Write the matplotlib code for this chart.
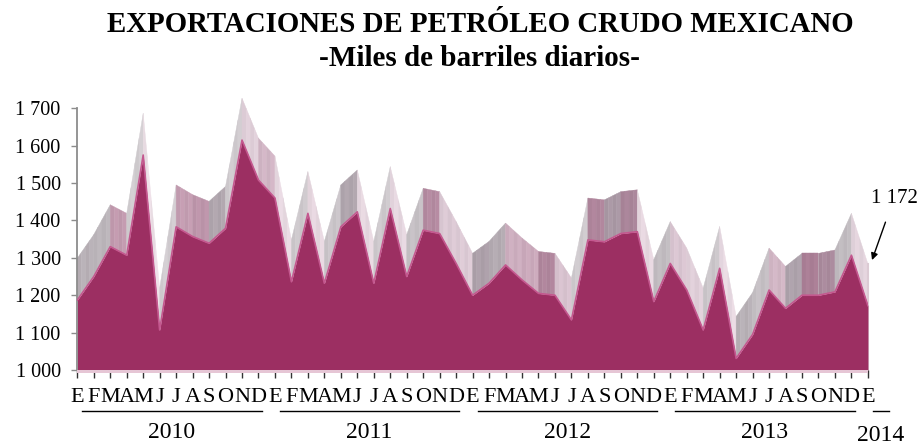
import matplotlib.pyplot as plt
import numpy as np
from matplotlib.patches import Polygon, Rectangle
from matplotlib.colors import to_rgb

plt.rcParams['font.family'] = ['Liberation Serif', 'DejaVu Serif']

# Exportaciones mensuales, miles de barriles diarios (ene 2010 - ene 2014)
meses = ["E", "F", "M", "A", "M", "J", "J", "A", "S", "O", "N", "D"]
anios = ["2010", "2011", "2012", "2013", "2014"]
exportaciones = [
    1187, 1250, 1330, 1307, 1575, 1107, 1383, 1357, 1339, 1379, 1615, 1508,   # 2010
    1460, 1236, 1419, 1232, 1383, 1423, 1232, 1432, 1250, 1374, 1365, 1285,   # 2011
    1200, 1232, 1281, 1241, 1205, 1200, 1134, 1348, 1343, 1365, 1370, 1183,   # 2012
    1285, 1214, 1107, 1272, 1031, 1095, 1214, 1165, 1200, 1200, 1209, 1307,   # 2013
    1172,                                                                     # 2014
]
etiquetas_x = meses * 4 + ["E"]
yticks = [1000, 1100, 1200, 1300, 1400, 1500, 1600, 1700]

PROF = 112          # profundidad del efecto 3D, en unidades del eje y
FRENTE = "#9c2f62"

W, H = 921, 445
fig = plt.figure(figsize=(W / 100, H / 100), dpi=100)
ax_l, ax_r, ax_b, ax_t = 77.3, 867.9, 370.0, 89.6
ax = fig.add_axes([ax_l / W, (H - ax_b) / H, (ax_r - ax_l) / W, (ax_b - ax_t) / H])
ax.set_xlim(0, len(exportaciones) - 1)
ax.set_ylim(1000, 1750)

x = np.arange(len(exportaciones))
y = np.array(exportaciones, dtype=float)

# pendiente en pixeles para sombrear la cara superior
px_x = (ax_r - ax_l) / (len(x) - 1)
px_y = (ax_b - ax_t) / 750.0
ang_ref = [-90, -60, -30, 0, 30, 60, 90]
col_ref = ["#efe3ea", "#dbc8d3", "#c49cb1", "#aa7f96", "#a99ba6", "#bab4b9", "#dcd8db"]
col_ref = np.array([to_rgb(c) for c in col_ref])


def sombra(a):
    return [np.interp(a, ang_ref, col_ref[:, k]) for k in range(3)]


# cara superior (profundidad), tramo a tramo con franjas verticales
for i in range(len(x) - 1):
    ang = np.degrees(np.arctan((y[i + 1] - y[i]) * px_y / px_x))
    base = np.array(sombra(ang))
    n = 4
    for k in range(n):
        x0 = x[i] + k / n
        x1 = x[i] + (k + 1) / n
        y0 = y[i] + (y[i + 1] - y[i]) * k / n
        y1 = y[i] + (y[i + 1] - y[i]) * (k + 1) / n
        f = 1 + 0.035 * (k % 2) - 0.02
        c = np.clip(base * f, 0, 1)
        ax.add_patch(Polygon([(x0, y0), (x1, y1), (x1, y1 + PROF), (x0, y0 + PROF)],
                             closed=True, facecolor=c, edgecolor=c, lw=0.3, zorder=1))

# cara frontal
ax.fill_between(x, 1000, y, color=FRENTE, lw=0, zorder=2)
ax.plot(x, y, color="#c4588f", lw=1.2, zorder=3)
# lateral derecho
ax.plot([x[-1], x[-1]], [1000, y[-1] + PROF], color="#dccbd4", lw=1.5, zorder=1.5,
        clip_on=False)

# piso
ax.add_patch(Rectangle((0, -0.012), x[-1], 0.012, transform=ax.get_xaxis_transform(),
                       facecolor="#e6c6d5", edgecolor="none", clip_on=False, zorder=4))

for s in ["top", "right", "bottom"]:
    ax.spines[s].set_visible(False)
ax.spines["left"].set_color("#8c8c8c")
ax.spines["left"].set_linewidth(1.3)
ax.spines["left"].set_bounds(1000, 1700)

ax.set_yticks(yticks)
ax.set_yticklabels([f"{v:,}".replace(",", " ") for v in yticks], fontsize=14.5)
ax.tick_params(axis="y", length=4, width=1, color="#8c8c8c", pad=8)
ax.set_xticks(x)
ax.set_xticklabels(etiquetas_x, fontsize=16)
ax.tick_params(axis="x", length=6, width=1, color="#333333", pad=7)

# años bajo los meses
trans = ax.get_xaxis_transform()
for k, anio in enumerate(anios):
    ini = 12 * k + 0.3
    fin = 12 * k + 11.2 if k < 4 else 12 * k + 1.3
    ax.plot([ini, fin], [-0.147, -0.147], color="black", lw=1, transform=trans, clip_on=False)
    yy = -0.222 if k < 4 else -0.235
    ax.text((ini + fin) / 2, yy, anio, transform=trans, ha="center", va="center", fontsize=17)

# último dato
ax.annotate(f"{exportaciones[-1]:,}".replace(",", " "), xy=(x[-1] + 0.25, y[-1] + PROF + 10),
            xytext=(22, 62), textcoords="offset pixels", ha="center", va="center",
            fontsize=15, annotation_clip=False,
            arrowprops=dict(arrowstyle="-|>", color="black", lw=1, shrinkA=9, shrinkB=0,
                            mutation_scale=10))

fig.text(480 / W, 1 - 24 / H, "EXPORTACIONES DE PETRÓLEO CRUDO MEXICANO", ha="center",
         va="center", fontsize=20.8, fontweight="bold")
fig.text(479 / W, 1 - 58.5 / H, "-Miles de barriles diarios-", ha="center", va="center",
         fontsize=21, fontweight="bold")

fig.savefig("out.png", dpi=100)
